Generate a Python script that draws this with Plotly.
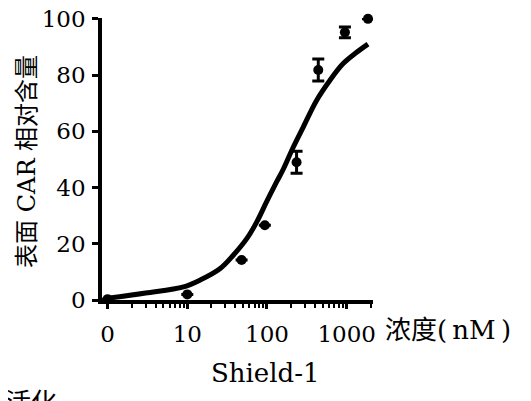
import plotly.graph_objects as go

# Measured data (Shield-1 concentration in nM; "0" plotted at the axis start)
conc = [1, 10, 48, 94, 235, 440, 950, 1850]
surface_car = [0.3, 2, 14.2, 26.6, 49, 81.8, 95.2, 100]
err = [0, 0, 0, 0, 3.9, 3.9, 1.9, 0]

# Fitted curve
fit_x = [1, 3, 9, 14.5, 25.9, 38, 56, 74.5, 99, 132, 160, 214, 285, 417, 611, 897, 1320, 1850]
fit_y = [0.6, 2.5, 4.7, 7.1, 11.2, 16, 21.9, 27.8, 35, 42, 46.5, 54.4, 61.5, 70.9, 78, 84, 88, 91]

tick_vals = [1, 10, 100, 1000]
tick_text = ["0", "10", "100", "1000"]
y_ticks = [0, 20, 40, 60, 80, 100]
minor_vals = [k * 10 ** d for d in range(0, 4) for k in range(2, 10) if k * 10 ** d < 2100]

FONT = "DejaVu Serif, Noto Sans CJK SC, serif"

fig = go.Figure()
fig.add_trace(go.Scatter(
    x=fit_x, y=fit_y, mode="lines", line=dict(color="black", width=5, shape="spline", smoothing=1.0),
    hoverinfo="skip", showlegend=False, cliponaxis=False))
fig.add_trace(go.Scatter(
    x=conc, y=surface_car, mode="markers",
    marker=dict(color="black", size=10),
    error_y=dict(type="data", array=err, visible=True, color="black", thickness=3, width=6),
    showlegend=False, cliponaxis=False))

# The page body adds an 8px offset, so the figure is 8px smaller on each axis
fig.update_layout(
    width=523, height=393,
    margin=dict(l=94, r=158, t=10, b=101, autoexpand=False),
    paper_bgcolor="white", plot_bgcolor="white",
    font=dict(family=FONT, size=23, color="black"),
    xaxis=dict(
        type="log", range=[-0.07, 3.33], automargin=False,
        tickmode="array", tickvals=tick_vals, ticktext=tick_text,
        ticks="outside", ticklen=5, tickwidth=3, tickcolor="black",
        minor=dict(tickmode="array", tickvals=minor_vals, ticks="outside",
                   ticklen=4, tickwidth=2, tickcolor="black"),
        showline=True, linecolor="black", linewidth=3.5,
        showgrid=False, zeroline=False, ticklabelstandoff=6,
        ticklabeloverflow="allow",
        tickfont=dict(family=FONT, size=23, color="black"),
    ),
    yaxis=dict(
        range=[0, 100.3], tickmode="array", tickvals=y_ticks, automargin=False,
        ticks="outside", ticklen=6, tickwidth=3, tickcolor="black",
        showline=True, linecolor="black", linewidth=3.5,
        showgrid=False, zeroline=False, ticklabelstandoff=2,
        ticklabeloverflow="allow",
        tickfont=dict(family=FONT, size=23, color="black"),
    ),
    annotations=[
        dict(text="表面 CAR 相对含量", xref="paper", yref="paper", x=-0.277, y=0.493,
             xanchor="center", yanchor="middle", textangle=-90, showarrow=False,
             font=dict(family=FONT, size=24, color="black")),
        dict(text="浓度(\u2009nM\u2009)", xref="paper", yref="paper", x=1.037, y=-0.106,
             xanchor="left", yanchor="middle", showarrow=False,
             font=dict(family=FONT, size=26, color="black")),
        dict(text="Shield-1", xref="paper", yref="paper", x=0.605, y=-0.259,
             xanchor="center", yanchor="middle", showarrow=False,
             font=dict(family=FONT, size=26, color="black")),
        dict(text="活化", xref="paper", yref="paper", x=-0.365, y=-0.305,
             xanchor="left", yanchor="top", showarrow=False,
             font=dict(family=FONT, size=26, color="black")),
    ],
)

fig.write_html("out.html")
